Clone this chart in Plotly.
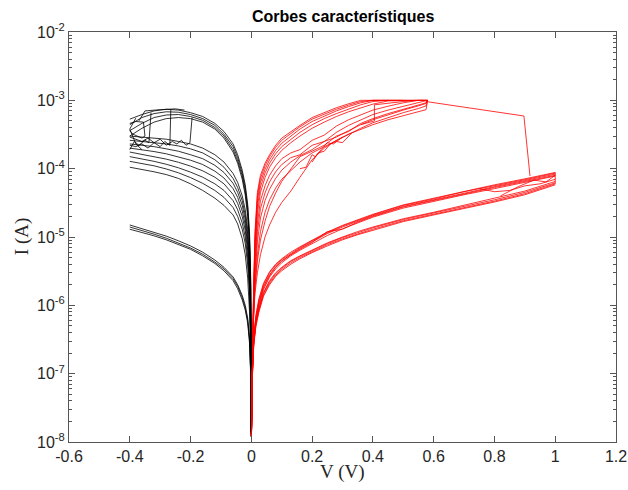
import plotly.graph_objects as go

# ---------------- voltage grids (V) ----------------
V_NEG = [-0.40, -0.36, -0.32, -0.28, -0.24, -0.20, -0.16, -0.12, -0.09, -0.06,
         -0.045, -0.03, -0.02, -0.012, -0.006, -0.002, -0.0004]
V_SET = [0.0004, 0.003, 0.007, 0.012, 0.02, 0.03, 0.045, 0.06, 0.08, 0.1, 0.13, 0.16,
         0.2, 0.24, 0.28, 0.32, 0.36, 0.4, 0.45, 0.5, 0.55, 0.575, 0.58]
V_HRS = [0.0004, 0.003, 0.008, 0.015, 0.025, 0.04, 0.06, 0.08, 0.1, 0.13, 0.16, 0.2,
         0.25, 0.3, 0.35, 0.4, 0.5, 0.6, 0.7, 0.8, 0.9, 1.0]

# ---------------- negative sweeps (A) ----------------
# low-resistance branches before reset
neg_lrs = [
    [5.3e-4, 6.2e-4, 7.0e-4, 7.4e-4, 7.2e-4, 6.6e-4, 5.8e-4, 4.6e-4, 3.5e-4, 2.3e-4, 1.6e-4, 9.5e-5, 5.8e-5, 3.0e-5, 1.2e-5, 2.5e-6, 1.4e-8],
    [4.4e-4, 5.6e-4, 6.4e-4, 6.8e-4, 6.7e-4, 6.2e-4, 5.4e-4, 4.3e-4, 3.2e-4, 2.1e-4, 1.45e-4, 8.6e-5, 5.2e-5, 2.7e-5, 1.0e-5, 2.0e-6, 1.6e-8],
    [3.6e-4, 4.6e-4, 5.6e-4, 6.1e-4, 6.2e-4, 5.8e-4, 5.1e-4, 4.0e-4, 3.0e-4, 1.9e-4, 1.3e-4, 7.8e-5, 4.6e-5, 2.3e-5, 8.5e-6, 1.7e-6, 1.8e-8],
    [3.0e-4, 3.9e-4, 4.8e-4, 5.4e-4, 5.6e-4, 5.4e-4, 4.8e-4, 3.8e-4, 2.8e-4, 1.75e-4, 1.2e-4, 7.0e-5, 4.1e-5, 2.0e-5, 7.5e-6, 1.5e-6, 2.0e-8],
]
# return branches after reset
neg_hrs = [
    [3.0e-4, 2.9e-4, 2.8e-4, 2.7e-4, 2.5e-4, 2.3e-4, 2.0e-4, 1.6e-4, 1.25e-4, 8.5e-5, 6.3e-5, 4.0e-5, 2.5e-5, 1.3e-5, 5.0e-6, 1.0e-6, 1.6e-8],
    [2.6e-4, 2.5e-4, 2.4e-4, 2.3e-4, 2.15e-4, 1.95e-4, 1.7e-4, 1.35e-4, 1.05e-4, 7.2e-5, 5.3e-5, 3.4e-5, 2.1e-5, 1.1e-5, 4.2e-6, 8.5e-7, 1.5e-8],
    [2.3e-4, 2.2e-4, 2.1e-4, 1.95e-4, 1.8e-4, 1.6e-4, 1.4e-4, 1.12e-4, 8.8e-5, 6.1e-5, 4.5e-5, 2.9e-5, 1.8e-5, 9.2e-6, 3.5e-6, 7.0e-7, 1.4e-8],
    [2.0e-4, 1.9e-4, 1.78e-4, 1.65e-4, 1.5e-4, 1.33e-4, 1.15e-4, 9.2e-5, 7.3e-5, 5.1e-5, 3.8e-5, 2.4e-5, 1.5e-5, 7.6e-6, 2.9e-6, 5.8e-7, 1.5e-8],
    [1.75e-4, 1.62e-4, 1.5e-4, 1.38e-4, 1.24e-4, 1.09e-4, 9.3e-5, 7.5e-5, 6.0e-5, 4.2e-5, 3.1e-5, 2.0e-5, 1.25e-5, 6.3e-6, 2.4e-6, 4.8e-7, 1.3e-8],
    [1.5e-4, 1.4e-4, 1.28e-4, 1.16e-4, 1.03e-4, 8.9e-5, 7.5e-5, 6.0e-5, 4.8e-5, 3.4e-5, 2.5e-5, 1.6e-5, 1.0e-5, 5.0e-6, 1.9e-6, 3.8e-7, 1.4e-8],
    [1.28e-4, 1.2e-4, 1.1e-4, 9.9e-5, 8.7e-5, 7.4e-5, 6.1e-5, 4.8e-5, 3.8e-5, 2.7e-5, 2.0e-5, 1.3e-5, 8.0e-6, 3.9e-6, 1.5e-6, 3.0e-7, 1.2e-8],
    [1.05e-4, 9.8e-5, 9.0e-5, 8.2e-5, 7.2e-5, 6.0e-5, 4.8e-5, 3.7e-5, 2.9e-5, 2.1e-5, 1.55e-5, 9.5e-6, 5.5e-6, 2.5e-6, 8.0e-7, 1.6e-7, 1.2e-8],
]
# low-current negative cycles
neg_low = [
    [1.5e-5, 1.33e-5, 1.18e-5, 1.03e-5, 8.8e-6, 7.4e-6, 6.0e-6, 4.6e-6, 3.6e-6, 2.6e-6, 2.0e-6, 1.4e-6, 1.0e-6, 6.5e-7, 3.4e-7, 1.1e-7, 1.2e-8],
    [1.4e-5, 1.25e-5, 1.1e-5, 9.6e-6, 8.2e-6, 6.9e-6, 5.6e-6, 4.3e-6, 3.4e-6, 2.45e-6, 1.9e-6, 1.3e-6, 9.2e-7, 6.0e-7, 3.1e-7, 1.0e-7, 1.3e-8],
    [1.3e-5, 1.17e-5, 1.04e-5, 9.1e-6, 7.8e-6, 6.6e-6, 5.3e-6, 4.1e-6, 3.2e-6, 2.3e-6, 1.75e-6, 1.2e-6, 8.5e-7, 5.5e-7, 2.8e-7, 9.0e-8, 1.4e-8],
]
# abrupt reset steps (V, I)
neg_steps = [
    ([-0.195, -0.202, -0.215, -0.23, -0.245, -0.26, -0.28, -0.30, -0.32, -0.34, -0.36, -0.38, -0.40],
     [5.6e-4, 2.4e-4, 2.2e-4, 2.6e-4, 2.3e-4, 2.5e-4, 2.2e-4, 2.7e-4, 2.4e-4, 2.8e-4, 2.5e-4, 2.7e-4, 2.9e-4]),
    ([-0.265, -0.268, -0.285, -0.30, -0.32, -0.34, -0.36, -0.38, -0.40],
     [7.3e-4, 2.2e-4, 2.5e-4, 2.1e-4, 2.4e-4, 2.0e-4, 2.3e-4, 2.1e-4, 2.2e-4]),
    ([-0.33, -0.337, -0.35, -0.37, -0.385, -0.40],
     [6.6e-4, 2.4e-4, 2.6e-4, 2.2e-4, 2.5e-4, 1.9e-4]),
    ([-0.40, -0.38, -0.355, -0.35, -0.36, -0.39, -0.40],
     [4.6e-4, 4.9e-4, 4.8e-4, 3.0e-4, 2.8e-4, 3.2e-4, 3.6e-4]),
    ([-0.37, -0.35, -0.30, -0.25, -0.22],
     [5.0e-4, 7.0e-4, 7.3e-4, 7.5e-4, 7.2e-4]),
    ([-0.38, -0.40, -0.38, -0.36],
     [5.5e-4, 3.8e-4, 2.3e-4, 1.9e-4]),
]

# ---------------- positive sweeps (A) ----------------
# set branches, clamped by the 1 mA compliance
pos_set = [
    [1.3e-8, 1.5e-7, 1.3e-6, 1.2e-5, 4.5e-5, 8.0e-5, 1.2e-4, 1.6e-4, 2.2e-4, 2.8e-4, 3.5e-4, 4.3e-4, 5.6e-4, 6.6e-4, 7.8e-4, 8.9e-4, 1.0e-3, 1.0e-3, 1.0e-3],
    [1.3e-8, 1.4e-7, 1.2e-6, 1.0e-5, 4.0e-5, 7.2e-5, 1.1e-4, 1.5e-4, 2.05e-4, 2.6e-4, 3.3e-4, 4.1e-4, 5.3e-4, 6.3e-4, 7.4e-4, 8.5e-4, 9.6e-4, 1.0e-3, 1.0e-3, 1.0e-3],
    [1.4e-8, 1.3e-7, 1.1e-6, 8.5e-6, 3.4e-5, 6.3e-5, 9.8e-5, 1.35e-4, 1.85e-4, 2.35e-4, 3.0e-4, 3.8e-4, 4.9e-4, 5.9e-4, 7.0e-4, 8.1e-4, 9.2e-4, 1.0e-3, 1.0e-3, 1.0e-3, 1.0e-3],
    [1.2e-8, 1.3e-7, 1.0e-6, 7.0e-6, 2.8e-5, 5.4e-5, 8.6e-5, 1.2e-4, 1.65e-4, 2.1e-4, 2.7e-4, 3.4e-4, 4.4e-4, 5.4e-4, 6.4e-4, 7.5e-4, 8.6e-4, 9.6e-4, 1.0e-3, 1.0e-3, 1.0e-3, 1.0e-3, 1.0e-3],
    [1.3e-8, 1.2e-7, 9.0e-7, 5.5e-6, 2.2e-5, 4.5e-5, 7.4e-5, 1.05e-4, 1.45e-4, 1.85e-4, 2.4e-4, 3.0e-4, 3.9e-4, 4.8e-4, 5.8e-4, 6.8e-4, 7.8e-4, 8.8e-4, 9.8e-4, 1.0e-3, 1.0e-3, 1.0e-3, 1.0e-3],
    [1.3e-8, 1.2e-7, 8.0e-7, 4.2e-6, 1.6e-5, 3.4e-5, 5.6e-5, 8.0e-5, 1.1e-4, 1.4e-4, 1.7e-4, 1.9e-4, 2.6e-4, 3.1e-4, 4.2e-4, 5.2e-4, 6.2e-4, 7.2e-4, 8.2e-4, 9.2e-4, 1.0e-3, 1.0e-3, 1.0e-3],
    [1.2e-8, 1.1e-7, 7.0e-7, 3.2e-6, 1.2e-5, 2.6e-5, 4.4e-5, 6.4e-5, 9.0e-5, 1.15e-4, 1.45e-4, 1.6e-4, 2.2e-4, 2.5e-4, 3.4e-4, 4.3e-4, 5.2e-4, 6.2e-4, 7.2e-4, 8.2e-4, 9.3e-4, 1.0e-3, 1.0e-3],
    [1.3e-8, 1.1e-7, 7.0e-7, 2.6e-6, 8.5e-6, 1.9e-5, 3.4e-5, 5.0e-5, 7.2e-5, 9.5e-5, 1.25e-4, 1.55e-4, 1.9e-4, 2.5e-4, 2.9e-4, 3.6e-4, 4.4e-4, 5.2e-4, 6.2e-4, 7.2e-4, 8.3e-4, 9.0e-4, 1.0e-3],
    [1.3e-8, 1.2e-7, 6.5e-7, 1.8e-6, 4.5e-6, 9.0e-6, 1.7e-5, 2.8e-5, 4.4e-5, 6.5e-5, 1.0e-4, 1.5e-4, 1.8e-4, 2.2e-4, 3.0e-4, 3.5e-4, 4.6e-4, 5.4e-4, 6.4e-4, 7.4e-4, 8.5e-4, 9.2e-4, 1.0e-3],
    [1.2e-8, 1.2e-7, 6.5e-7, 2.0e-6, 5.5e-6, 1.2e-5, 2.3e-5, 3.5e-5, 5.2e-5, 7.0e-5, 9.5e-5, 1.25e-4, 1.7e-4, 2.1e-4, 2.6e-4, 3.2e-4, 3.9e-4, 4.7e-4, 5.6e-4, 6.6e-4, 7.6e-4, 8.3e-4, 1.0e-3],
    [1.2e-8, 1.2e-7, 6.0e-7, 1.5e-6, 3.0e-6, 5.5e-6, 1.0e-5, 1.5e-5, 2.3e-5, 3.2e-5, 4.7e-5, 7.5e-5, 1.35e-4, 2.0e-4, 2.6e-4, 3.2e-4, 3.8e-4, 4.4e-4, 5.2e-4, 6.0e-4, 6.8e-4, 7.3e-4, 1.0e-3],
]
# stepwise set transitions (V, I)
pos_steps = [
    ([0.16, 0.18, 0.20, 0.21, 0.23, 0.25, 0.27, 0.30],
     [1.0e-4, 1.05e-4, 1.6e-4, 1.5e-4, 1.9e-4, 2.4e-4, 2.3e-4, 2.9e-4]),
    ([0.20, 0.22, 0.24, 0.26, 0.28, 0.30, 0.33],
     [1.25e-4, 1.7e-4, 1.8e-4, 2.3e-4, 2.5e-4, 2.4e-4, 3.3e-4]),
    ([0.36, 0.405, 0.405, 0.44, 0.50, 0.55, 0.58],
     [4.4e-4, 5.0e-4, 8.6e-4, 9.0e-4, 9.6e-4, 1.0e-3, 1.0e-3]),
]
# high-resistance positive sweeps up to 1 V
pos_hrs = [
    [1.3e-8, 1.2e-7, 3.6e-7, 7.2e-7, 1.25e-6, 2.1e-6, 3.1e-6, 4.0e-6, 4.8e-6, 6.0e-6, 7.2e-6, 9.0e-6, 1.18e-5, 1.48e-5, 1.8e-5, 2.15e-5, 2.95e-5, 3.7e-5, 4.7e-5, 5.8e-5, 7.1e-5, 8.8e-5],
    [1.2e-8, 1.1e-7, 3.4e-7, 6.8e-7, 1.2e-6, 2.0e-6, 3.0e-6, 3.9e-6, 4.7e-6, 5.8e-6, 7.0e-6, 8.8e-6, 1.15e-5, 1.45e-5, 1.75e-5, 2.1e-5, 2.9e-5, 3.6e-5, 4.6e-5, 5.6e-5, 6.9e-5, 8.6e-5],
    [1.3e-8, 1.1e-7, 3.2e-7, 6.4e-7, 1.1e-6, 1.9e-6, 2.8e-6, 3.7e-6, 4.5e-6, 5.6e-6, 6.8e-6, 8.5e-6, 1.12e-5, 1.4e-5, 1.7e-5, 2.05e-5, 2.8e-5, 3.5e-5, 4.45e-5, 5.45e-5, 6.7e-5, 8.3e-5],
    [1.2e-8, 1.0e-7, 3.0e-7, 6.0e-7, 1.05e-6, 1.8e-6, 2.7e-6, 3.6e-6, 4.4e-6, 5.5e-6, 6.6e-6, 8.3e-6, 1.2e-5, 1.3e-5, 1.65e-5, 2.0e-5, 2.75e-5, 3.45e-5, 4.3e-5, 5.3e-5, 6.5e-5, 8.0e-5],
    [1.3e-8, 1.0e-7, 2.8e-7, 5.6e-7, 9.8e-7, 1.7e-6, 2.6e-6, 3.4e-6, 4.2e-6, 5.3e-6, 6.4e-6, 8.0e-6, 1.05e-5, 1.32e-5, 1.6e-5, 1.95e-5, 2.65e-5, 3.35e-5, 4.15e-5, 5.1e-5, 6.3e-5, 7.8e-5],
    [1.2e-8, 1.0e-7, 3.0e-7, 5.6e-7, 9.2e-7, 1.55e-6, 2.3e-6, 3.0e-6, 3.6e-6, 4.5e-6, 5.3e-6, 6.5e-6, 8.2e-6, 1.0e-5, 1.2e-5, 1.4e-5, 1.85e-5, 2.3e-5, 2.9e-5, 3.65e-5, 4.7e-5, 6.5e-5],
    [1.3e-8, 9.5e-8, 2.9e-7, 5.4e-7, 8.8e-7, 1.5e-6, 2.2e-6, 2.9e-6, 3.5e-6, 4.4e-6, 5.2e-6, 6.3e-6, 8.0e-6, 9.8e-6, 1.17e-5, 1.36e-5, 1.8e-5, 2.25e-5, 2.8e-5, 3.5e-5, 4.5e-5, 6.2e-5],
    [1.2e-8, 9.0e-8, 2.7e-7, 5.1e-7, 8.4e-7, 1.42e-6, 2.1e-6, 2.75e-6, 3.35e-6, 4.2e-6, 5.0e-6, 6.1e-6, 7.7e-6, 9.4e-6, 1.12e-5, 1.3e-5, 1.73e-5, 2.15e-5, 2.7e-5, 3.35e-5, 4.3e-5, 6.0e-5],
    [1.3e-8, 9.0e-8, 2.6e-7, 4.9e-7, 8.0e-7, 1.36e-6, 2.0e-6, 2.65e-6, 3.2e-6, 4.0e-6, 4.8e-6, 5.9e-6, 7.4e-6, 9.1e-6, 1.08e-5, 1.26e-5, 1.68e-5, 2.1e-5, 2.6e-5, 3.25e-5, 4.15e-5, 5.8e-5],
]
# crossings near the end of the positive sweep, turn-around at 1 V, and the sparse jump
pos_misc = [
    ([0.75, 0.80, 0.85, 0.90, 0.95, 1.0], [5.1e-5, 4.6e-5, 4.8e-5, 5.6e-5, 6.0e-5, 7.0e-5]),
    ([0.82, 0.88, 0.93, 0.97, 1.0], [4.0e-5, 5.5e-5, 6.8e-5, 6.4e-5, 8.0e-5]),
    ([1.0, 1.0], [6.0e-5, 8.8e-5]),
    ([0.575, 0.897, 0.917], [9.6e-4, 5.9e-4, 7.8e-5]),
]

X_TICKS = [-0.6, -0.4, -0.2, 0, 0.2, 0.4, 0.6, 0.8, 1, 1.2]
X_LABELS = ["-0.6", "-0.4", "-0.2", "0", "0.2", "0.4", "0.6", "0.8", "1", "1.2"]
Y_EXP = [-8, -7, -6, -5, -4, -3, -2]

BLACK = "#000000"
RED = "#ff0000"
AXIS = "#555555"
TEXT = "#262626"
LW = 0.8

fig = go.Figure()


def add(v, i, color):
    fig.add_trace(go.Scatter(x=v, y=i, mode="lines", line=dict(color=color, width=LW),
                             hoverinfo="skip", showlegend=False))


for cur in neg_lrs + neg_hrs + neg_low:
    add(V_NEG[:len(cur)], cur, BLACK)
for v, cur in neg_steps:
    add(v, cur, BLACK)
for cur in pos_set:
    add(V_SET[:len(cur)], cur, RED)
for v, cur in pos_steps:
    add(v, cur, RED)
for cur in pos_hrs:
    add(V_HRS[:len(cur)], cur, RED)
for v, cur in pos_misc:
    add(v, cur, RED)

fig.update_layout(
    width=628, height=490,
    margin=dict(l=69, r=12, t=32, b=48, autoexpand=False),
    paper_bgcolor="white", plot_bgcolor="white",
    font=dict(family="Liberation Sans, Arial, sans-serif", size=16, color=TEXT),
)
fig.update_xaxes(
    range=[-0.6, 1.2], tickvals=X_TICKS, ticktext=X_LABELS, automargin=False,
    ticks="inside", ticklen=6, tickwidth=1, tickcolor=AXIS,
    showline=True, linecolor=AXIS, linewidth=1, mirror="ticks",
    showgrid=False, zeroline=False,
    tickfont=dict(size=16, color=TEXT),
)
fig.update_yaxes(
    type="log", range=[-8, -2], automargin=False,
    tickvals=[10.0 ** e for e in Y_EXP],
    ticktext=["10<sup>%d</sup>" % e for e in Y_EXP],
    ticks="inside", ticklen=6, tickwidth=1, tickcolor=AXIS,
    minor=dict(ticks="inside", ticklen=3, tickcolor=AXIS, dtick="D1", showgrid=False),
    showline=True, linecolor=AXIS, linewidth=1, mirror="ticks",
    showgrid=False, zeroline=False,
    tickfont=dict(size=16, color=TEXT),
)

fig.add_annotation(text="<b>Corbes característiques</b>", x=0.5, y=1.037,
                   xref="paper", yref="paper", showarrow=False, yanchor="middle",
                   font=dict(family="Liberation Sans, Arial, sans-serif", size=16, color="#000000"))
fig.add_annotation(text="V (V)", x=0.5, y=-0.073, xref="paper", yref="paper",
                   showarrow=False, yanchor="middle",
                   font=dict(family="Liberation Serif, Times New Roman, serif", size=19, color=TEXT))
fig.add_annotation(text="I (A)", x=-0.086, y=0.502, xref="paper", yref="paper",
                   showarrow=False, textangle=-90, xanchor="center", yanchor="middle",
                   font=dict(family="Liberation Serif, Times New Roman, serif", size=19, color=TEXT))

fig.write_html("out.html")
